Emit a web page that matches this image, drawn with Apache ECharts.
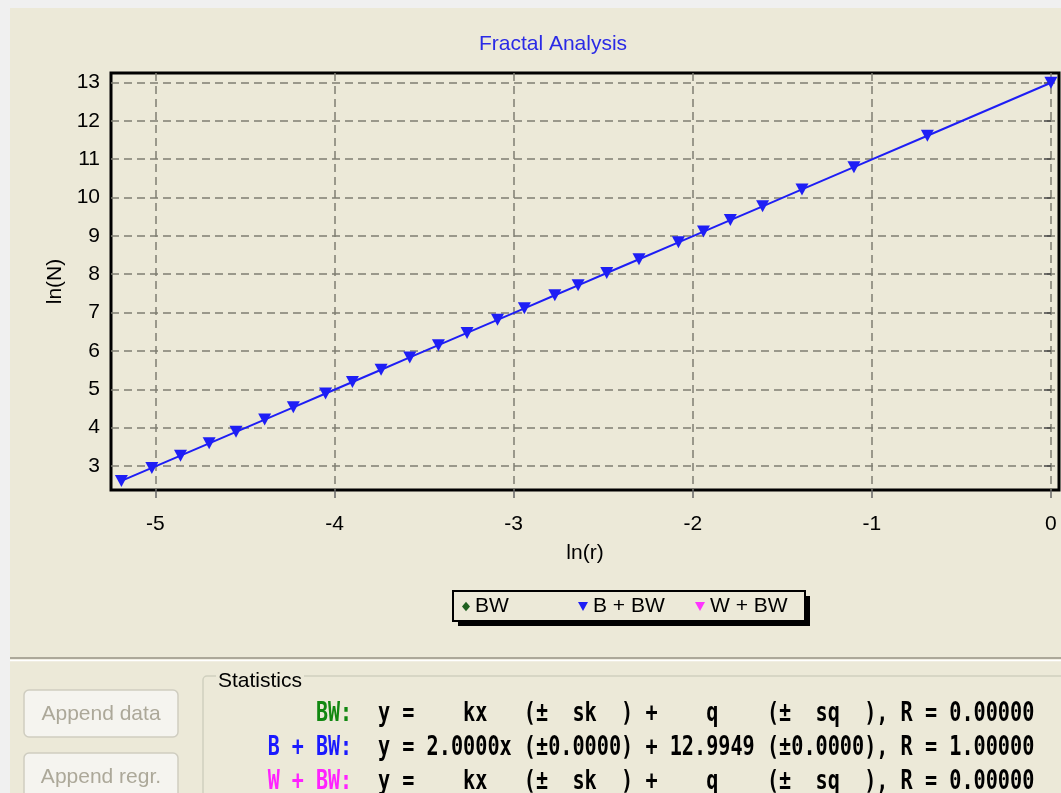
<!DOCTYPE html>
<html><head><meta charset="utf-8">
<script src="https://cdn.jsdelivr.net/npm/echarts@6/dist/echarts.min.js"></script>
<style>html,body{margin:0;padding:0;background:#f0f0f0;overflow:hidden}#c{width:1061px;height:793px}</style>
</head><body><div id="c"></div>
<script>
// ---- data ----
const chartTitle = 'Fractal Analysis';
const xName = 'ln(r)';
const yName = 'ln(N)';
const seriesNames = ['BW', 'B + BW', 'W + BW'];
const lnR = [-5.19, -5.02, -4.86, -4.70, -4.55, -4.39, -4.23, -4.05, -3.90, -3.74, -3.58, -3.42, -3.26,
             -3.09, -2.94, -2.77, -2.64, -2.48, -2.30, -2.08, -1.94, -1.79, -1.61, -1.39, -1.10, -0.69, 0.00];
const lnN = [2.61, 2.95, 3.27, 3.59, 3.89, 4.21, 4.53, 4.89, 5.19, 5.51, 5.83, 6.15, 6.47,
             6.81, 7.11, 7.45, 7.71, 8.03, 8.39, 8.83, 9.11, 9.41, 9.77, 10.21, 10.79, 11.61, 12.99];
const bwData = [];
const wbwData = [];
const xRange = [-5.248, 0.045];
const yRange = [2.374, 13.245];
const statLabels = ['BW:', 'B + BW:', 'W + BW:'];
const statTexts = [
  'y =    kx   (±  sk  ) +    q    (±  sq  ), R = 0.00000',
  'y = 2.0000x (±0.0000) + 12.9949 (±0.0000), R = 1.00000',
  'y =    kx   (±  sk  ) +    q    (±  sq  ), R = 0.00000'
];
const groupTitle = 'Statistics';
const buttonLabels = ['Append data', 'Append regr.'];

// ---- styles ----
const PANEL = '#ECE9D8';
const seriesColors = ['#1f5f1f', '#1e1ef5', '#ff33ff'];
const statColors = ['#118811', '#1a1aff', '#ff22ff'];
const triDown = 'path://M0,0L10,0L5,9Z';
const diamond = 'path://M5,0L10,6L5,12L0,6Z';
const FONT = 'Liberation Sans, Arial, sans-serif';
const MONO = 'DejaVu Sans Mono, monospace';

const chart = echarts.init(document.getElementById('c'), null, {renderer: 'canvas'});

const intLabel = v => (Math.abs(v - Math.round(v)) < 1e-9 ? String(Math.round(v)) : '');

const legendPos = [462, 578, 695];
const legends = seriesNames.map((n, i) => ({
  data: [{name: n, icon: i === 0 ? diamond : triDown}],
  left: legendPos[i], top: 596, padding: 0,
  itemWidth: i === 0 ? 8 : 10, itemHeight: i === 0 ? 11 : 9, itemGap: 0,
  selectedMode: false, z: 10,
  textStyle: {fontFamily: FONT, fontSize: 21, color: '#000', padding: [2, 0, 0, 0]}
}));

const graphics = [
  {type: 'rect', z: -10, silent: true, shape: {x: 10, y: 8, width: 1060, height: 800}, style: {fill: PANEL}},
  // legend frame with shadow
  {type: 'rect', z: 2, shape: {x: 458, y: 596, width: 352, height: 30}, style: {fill: '#000'}},
  {type: 'rect', z: 3, shape: {x: 453, y: 591, width: 352, height: 30}, style: {fill: PANEL, stroke: '#000', lineWidth: 2}},
  // separator
  {type: 'line', z: 1, shape: {x1: 10, y1: 658, x2: 1061, y2: 658}, style: {stroke: '#aca899', lineWidth: 2}},
  {type: 'line', z: 1, shape: {x1: 10, y1: 660.5, x2: 1061, y2: 660.5}, style: {stroke: '#ffffff', lineWidth: 1.5}},
  // statistics group box
  {type: 'rect', z: 1, shape: {x: 203, y: 676, width: 900, height: 140, r: 4}, style: {fill: 'none', stroke: '#d0d0bf', lineWidth: 1.5}},
  {type: 'text', z: 2, x: 216, y: 681, style: {text: groupTitle, fontFamily: FONT, fontSize: 21, fill: '#000',
     backgroundColor: PANEL, padding: [0, 2], verticalAlign: 'middle', align: 'left'}}
];
// buttons
buttonLabels.forEach((b, i) => {
  const top = 690 + i * 63;
  graphics.push({type: 'rect', z: 1, shape: {x: 24, y: top, width: 154, height: 47, r: 5},
    style: {fill: '#f5f4ef', stroke: '#cfcdc0', lineWidth: 1.5}});
  graphics.push({type: 'text', z: 2, x: 101, y: top + 24, style: {text: b, fontFamily: FONT, fontSize: 21,
    fill: '#aca899', align: 'center', verticalAlign: 'middle'}});
});
// statistics rows
statLabels.forEach((l, i) => {
  const y = 714 + i * 34;
  graphics.push({type: 'group', z: 2, x: 0, y: y, scaleY: 1.3, children: [
    {type: 'text', x: 352, y: 0, style: {text: l, fontFamily: MONO, fontWeight: 'bold', fontSize: 20,
      fill: statColors[i], align: 'right', verticalAlign: 'middle'}},
    {type: 'text', x: 378, y: 0, style: {text: statTexts[i], fontFamily: MONO, fontWeight: 'bold', fontSize: 20.2,
      fill: '#000', align: 'left', verticalAlign: 'middle'}}
  ]});
});

const option = {
  backgroundColor: '#f0f0f0',
  animation: false,
  title: {text: chartTitle, left: 548, top: 29, textAlign: 'center',
    textStyle: {fontFamily: FONT, fontSize: 21, fontWeight: 'normal', color: '#2a2ae6'}},
  legend: legends,
  grid: {left: 111, right: 2, top: 73, bottom: 303, show: true, backgroundColor: 'transparent',
    borderColor: '#000', borderWidth: 3, containLabel: false},
  xAxis: {
    type: 'value', min: xRange[0], max: xRange[1], splitNumber: 5,
    name: xName, nameLocation: 'middle', nameGap: 53,
    nameTextStyle: {fontFamily: FONT, fontSize: 21, color: '#000'},
    axisLine: {show: false},
    axisTick: {show: true, length: 8, lineStyle: {color: '#666', width: 1.5}},
    axisLabel: {formatter: intLabel, margin: 24, fontFamily: FONT, fontSize: 21, color: '#000',
      showMinLabel: false, showMaxLabel: false},
    splitLine: {show: true, showMinLine: false, showMaxLine: false,
      lineStyle: {color: '#7f7d72', type: [8, 5], width: 1.5}}
  },
  yAxis: {
    type: 'value', min: yRange[0], max: yRange[1], splitNumber: 10,
    name: yName, nameLocation: 'middle', nameGap: 43, nameRotate: 90,
    nameTextStyle: {fontFamily: FONT, fontSize: 21, color: '#000'},
    axisLine: {show: false},
    axisTick: {show: true, length: 7, lineStyle: {color: '#444', width: 1.5}},
    axisLabel: {formatter: intLabel, margin: 11, fontFamily: FONT, fontSize: 21, color: '#000',
      showMinLabel: false, showMaxLabel: false},
    splitLine: {show: true, showMinLine: false, showMaxLine: false,
      lineStyle: {color: '#7f7d72', type: [8, 5], width: 1.5}}
  },
  graphic: graphics,
  series: [
    {name: seriesNames[0], type: 'line', data: bwData, symbol: diamond, symbolSize: [8, 11],
      itemStyle: {color: seriesColors[0]}, lineStyle: {color: seriesColors[0]}},
    {name: seriesNames[1], type: 'line', data: lnR.map((x, i) => [x, lnN[i]]),
      symbol: triDown, symbolSize: [13, 12], showAllSymbol: true, clip: false,
      itemStyle: {color: seriesColors[1]}, lineStyle: {color: seriesColors[1], width: 2}, z: 3},
    {name: seriesNames[2], type: 'line', data: wbwData, symbol: triDown, symbolSize: [10, 9],
      itemStyle: {color: seriesColors[2]}, lineStyle: {color: seriesColors[2]}}
  ]
};
chart.setOption(option);
</script>
</body></html>
